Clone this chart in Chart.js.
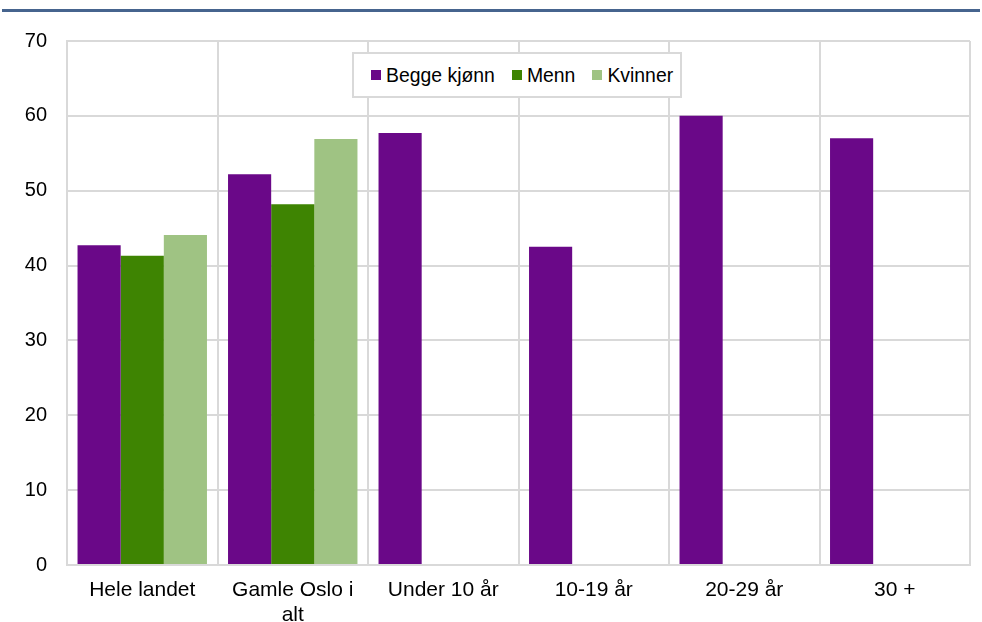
<!DOCTYPE html>
<html>
<head>
<meta charset="utf-8">
<script src="https://cdn.jsdelivr.net/npm/chart.js@4/dist/chart.umd.min.js"></script>
<style>
  html, body { margin: 0; padding: 0; background: #fff; }
  #wrap { position: relative; width: 982px; height: 622px; overflow: hidden; }
  #rule { position: absolute; left: 2px; right: 2px; top: 9px; height: 3px; background: #46648e; }
  #chart { position: absolute; left: 0; top: 0; }
  #legend {
    position: absolute; left: 352px; top: 52px; width: 309px; height: 42px;
    border: 2px solid #d9d9d9; background: #fff;
    font-family: "Liberation Sans", Arial, sans-serif; font-size: 19.4px; color: #000;
    display: flex; align-items: center; padding-left: 17px; box-sizing: content-box;
  }
  #legend .item { display: flex; align-items: center; margin-right: 17px; white-space: nowrap; }
  #legend .dot { width: 10px; height: 10px; margin-right: 5px; }
</style>
</head>
<body>
<div id="wrap">
  <div id="rule"></div>
  <canvas id="chart" width="982" height="622"></canvas>
  <div id="legend"></div>
</div>
<script>
// ===== Dados
const labels = ['Hele landet', ['Gamle Oslo i', 'alt'], 'Under 10 år', '10-19 år', '20-29 år', '30 +'];
const seriesNames = ['Begge kjønn', 'Menn', 'Kvinner'];
const begge   = [42.7, 52.2, 57.7, 42.5, 60.0, 57.0];
const menn    = [41.3, 48.2, null, null, null, null];
const kvinner = [44.1, 56.9, null, null, null, null];
const yTicks  = [0, 10, 20, 30, 40, 50, 60, 70];

const COLORS = ['#6a0888', '#3e8402', '#9fc383'];
const GRID = '#d9d9d9';
const FONT = '"Liberation Sans", Arial, sans-serif';

Chart.defaults.font.family = FONT;
Chart.defaults.color = '#000';

new Chart(document.getElementById('chart'), {
  type: 'bar',
  data: {
    labels,
    datasets: [begge, menn, kvinner].map((d, i) => ({
      label: seriesNames[i],
      data: d,
      backgroundColor: COLORS[i],
      borderWidth: 0,
      barPercentage: 1,
      categoryPercentage: 0.86
    }))
  },
  options: {
    responsive: false,
    animation: false,
    layout: { padding: { top: 41, right: 12, left: 0, bottom: 0 } },
    scales: {
      x: {
        grid: { color: GRID, lineWidth: 2, offset: true, drawTicks: false },
        border: { color: GRID, width: 2 },
        ticks: { padding: 12, maxRotation: 0, autoSkip: false, font: { size: 21, lineHeight: 1.22 } },
        afterFit: s => { s.height = 57; }
      },
      y: {
        min: 0, max: 70,
        afterBuildTicks: s => { s.ticks = yTicks.map(v => ({ value: v })); },
        grid: { color: GRID, lineWidth: 2, drawTicks: false },
        border: { color: GRID, width: 2 },
        ticks: { padding: 20, font: { size: 20 } },
        afterFit: s => { s.width = 67; }
      }
    },
    plugins: {
      legend: { display: false },
      tooltip: { enabled: false }
    }
  }
});

// legenda custom dentro do gráfico
document.getElementById('legend').innerHTML = seriesNames.map((n, i) => `
  <span class="item"><span class="dot" style="background:${COLORS[i]}"></span>${n}</span>
`).join('');
</script>
</body>
</html>
